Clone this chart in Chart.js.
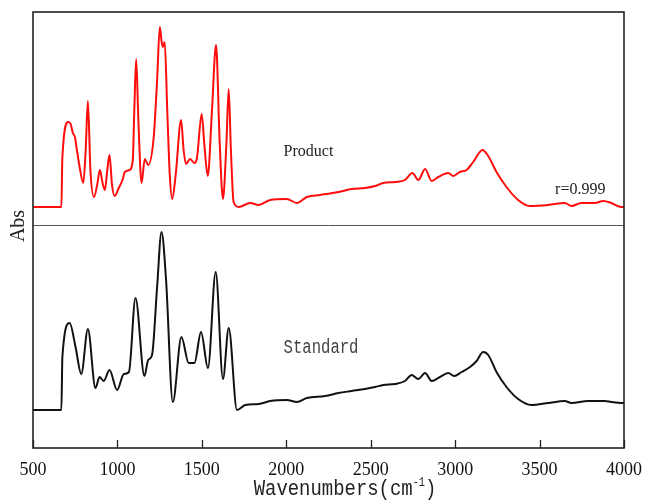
<!DOCTYPE html>
<html>
<head>
<meta charset="utf-8">
<title>IR spectra</title>
<script src="https://cdn.jsdelivr.net/npm/chart.js@4/dist/chart.umd.min.js"></script>
<style>
    body { margin: 0; background: #fff; }
    #wrap { width: 645px; height: 502px; position: relative; }
</style>
</head>
<body>
<div id="wrap"><canvas id="spectra"></canvas></div>
<script>
// wavenumbers (cm-1) and absorbance
const productWn = [500, 668, 674, 709, 723, 736, 748, 760, 772, 798, 812, 825, 840, 861, 880, 896, 912, 926, 940, 953,
    968, 983, 1008, 1030, 1044, 1072, 1091, 1100, 1111, 1124, 1143, 1162, 1182, 1215, 1235, 1251, 1262, 1269, 1280, 1295,
    1310, 1324, 1345, 1377, 1392, 1406, 1430, 1456, 1471, 1499, 1515, 1535, 1560, 1584, 1605, 1625, 1645, 1659, 1672, 1688,
    1718, 1787, 1836, 1905, 2003, 2063, 2122, 2201, 2309, 2388, 2467, 2526, 2575, 2644, 2703, 2747, 2782, 2822, 2861, 2900,
    2959, 2989, 3028, 3068, 3107, 3162, 3196, 3245, 3304, 3373, 3442, 3551, 3649, 3689, 3748, 3827, 3876, 3925, 3984, 4000];
const productAbs = [1.205, 1.205, 1.455, 1.630, 1.620, 1.575, 1.555, 1.490, 1.425, 1.325, 1.490, 1.735, 1.390, 1.255, 1.315, 1.390, 1.325, 1.290, 1.390, 1.465,
    1.315, 1.260, 1.300, 1.340, 1.380, 1.390, 1.440, 1.690, 1.945, 1.640, 1.325, 1.445, 1.415, 1.555, 1.840, 2.105, 2.030, 2.005, 2.030, 1.690,
    1.365, 1.245, 1.365, 1.640, 1.490, 1.420, 1.445, 1.425, 1.450, 1.670, 1.515, 1.360, 1.690, 2.015, 1.540, 1.245, 1.515, 1.795, 1.490, 1.230,
    1.205, 1.225, 1.215, 1.240, 1.245, 1.225, 1.255, 1.265, 1.280, 1.295, 1.300, 1.310, 1.325, 1.330, 1.340, 1.375, 1.340, 1.395, 1.335, 1.355,
    1.375, 1.360, 1.380, 1.390, 1.430, 1.490, 1.460, 1.380, 1.305, 1.240, 1.210, 1.215, 1.225, 1.210, 1.225, 1.225, 1.235, 1.225, 1.205, 1.205];

const standardWn = [500, 668, 674, 717, 752, 786, 825, 870, 894, 919, 953, 998, 1038, 1068, 1107, 1160, 1182, 1205, 1235, 1261,
    1288, 1328, 1379, 1422, 1456, 1495, 1536, 1582, 1625, 1659, 1708, 1757, 1836, 1905, 2003, 2063, 2122, 2230, 2309, 2388,
    2467, 2526, 2575, 2644, 2703, 2742, 2782, 2822, 2861, 2910, 2959, 2994, 3038, 3088, 3127, 3166, 3196, 3245, 3304, 3373,
    3452, 3551, 3649, 3689, 3787, 3886, 3925, 3984, 4000];
const standardAbs = [0.190, 0.190, 0.455, 0.625, 0.505, 0.370, 0.595, 0.300, 0.355, 0.335, 0.390, 0.290, 0.370, 0.380, 0.750, 0.360, 0.440, 0.465, 0.805, 1.080,
    0.840, 0.230, 0.555, 0.425, 0.425, 0.580, 0.400, 0.880, 0.345, 0.600, 0.190, 0.215, 0.220, 0.235, 0.240, 0.230, 0.250, 0.260, 0.275, 0.285,
    0.295, 0.305, 0.315, 0.320, 0.335, 0.365, 0.345, 0.375, 0.335, 0.355, 0.375, 0.360, 0.380, 0.405, 0.435, 0.480, 0.465, 0.380, 0.305, 0.245,
    0.215, 0.225, 0.235, 0.225, 0.235, 0.235, 0.230, 0.225, 0.225];

const xTicks = [500, 1000, 1500, 2000, 2500, 3000, 3500, 4000];
const dividerAbs = 1.115;
const yMax = 2.18;

const toPoints = (xs, ys) => xs.map((x, i) => ({ x: x, y: ys[i] }));

// text drawn narrower than the font, like the SimSun latin in the original
const drawNarrow = (ctx, text, x, y, font, sx) => {
    ctx.save();
    ctx.font = font;
    ctx.translate(x, y);
    ctx.scale(sx, 1);
    ctx.fillText(text, 0, 0);
    const w = ctx.measureText(text).width * sx;
    ctx.restore();
    return w;
};

const decor = {
    id: 'decor',
    afterDatasetsDraw(chart) {
        const { ctx, chartArea: a, scales: { x, y } } = chart;
        ctx.save();

        // separator between the two traces
        const dy = Math.round(y.getPixelForValue(dividerAbs)) + 0.5;
        ctx.strokeStyle = '#555';
        ctx.lineWidth = 1;
        ctx.beginPath();
        ctx.moveTo(a.left, dy);
        ctx.lineTo(a.right, dy);
        ctx.stroke();

        // frame + inward ticks
        ctx.strokeStyle = '#222';
        ctx.lineWidth = 1.6;
        ctx.strokeRect(a.left, a.top, a.right - a.left, a.bottom - a.top);
        ctx.lineWidth = 1.3;
        x.ticks.forEach(t => {
            const px = Math.round(x.getPixelForValue(t.value)) + 0.5;
            ctx.beginPath();
            ctx.moveTo(px, a.bottom);
            ctx.lineTo(px, a.bottom - 8);
            ctx.stroke();
        });

        // labels in the plot
        ctx.fillStyle = '#222';
        ctx.textBaseline = 'middle';
        ctx.textAlign = 'left';
        ctx.font = '16px "Liberation Serif"';
        ctx.fillText('Product', x.getPixelForValue(1984), y.getPixelForValue(1.48));
        ctx.fillText('r=0.999', x.getPixelForValue(3592), y.getPixelForValue(1.29));
        ctx.fillStyle = '#444';
        drawNarrow(ctx, 'Standard', x.getPixelForValue(1984), y.getPixelForValue(0.50), '20px "Liberation Mono"', 0.78);

        // axis titles
        ctx.fillStyle = '#222';
        ctx.textBaseline = 'alphabetic';
        let tx = x.getPixelForValue(1807);
        const by = a.bottom + 47;
        tx += drawNarrow(ctx, 'Wavenumbers(cm', tx, by, '22px "Liberation Mono"', 0.86);
        tx += drawNarrow(ctx, '-1', tx, by - 9, '12px "Liberation Mono"', 0.86);
        drawNarrow(ctx, ')', tx, by, '22px "Liberation Mono"', 0.86);

        ctx.save();
        ctx.translate(19, (a.top + a.bottom) / 2 - 4);
        ctx.rotate(-Math.PI / 2);
        ctx.textAlign = 'center';
        ctx.textBaseline = 'middle';
        ctx.font = '20px "Liberation Serif"';
        ctx.fillText('Abs', 0, 0);
        ctx.restore();

        ctx.restore();
    }
};

new Chart(document.getElementById('spectra'), {
    type: 'line',
    data: {
        datasets: [
            {
                label: 'Product',
                data: toPoints(productWn, productAbs),
                borderColor: '#ff0d0d',
                borderWidth: 2,
                pointRadius: 0,
                cubicInterpolationMode: 'monotone'
            },
            {
                label: 'Standard',
                data: toPoints(standardWn, standardAbs),
                borderColor: '#111',
                borderWidth: 2,
                pointRadius: 0,
                cubicInterpolationMode: 'monotone'
            }
        ]
    },
    options: {
        responsive: true,
        maintainAspectRatio: false,
        animation: false,
        layout: { padding: { left: 33, right: 20, top: 12, bottom: 0 } },
        plugins: { legend: { display: false }, tooltip: { enabled: false } },
        scales: {
            x: {
                type: 'linear',
                min: 500,
                max: 4000,
                afterFit: (scale) => { scale.height = 54; },
                afterBuildTicks: (scale) => { scale.ticks = xTicks.map(v => ({ value: v })); },
                grid: { display: false },
                border: { display: false },
                ticks: {
                    padding: 3,
                    color: '#111',
                    font: { family: '"Liberation Serif"', size: 18 },
                    callback: (v) => String(v)
                }
            },
            y: {
                display: false,
                min: 0,
                max: yMax
            }
        }
    },
    plugins: [decor]
});
</script>
</body>
</html>
